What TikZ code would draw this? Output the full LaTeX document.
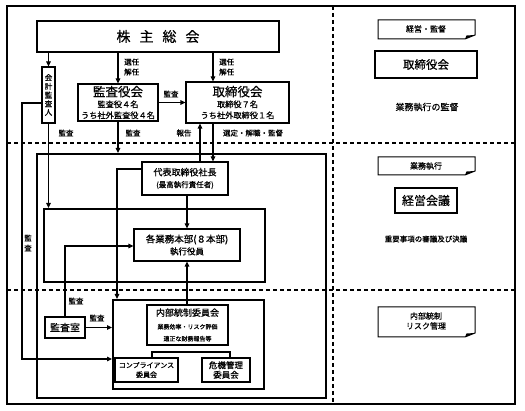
\documentclass[tikz,border=0pt]{standalone}
\usepackage{fontspec}
\setmainfont{Noto Sans CJK JP}[FakeBold=0.6]
\usetikzlibrary{arrows.meta,calc}
\begin{document}
\begin{tikzpicture}[x=1pt,y=-1pt,
  box/.style={draw,line width=1.1pt,inner sep=0pt,align=center},
  frm/.style={draw,line width=1.6pt,inner sep=0pt,anchor=north west},
  arr/.style={line width=1.1pt,-{Triangle[length=5pt,width=4.5pt]}},
  ln/.style={line width=1.1pt},
  lab/.style={font=\fontsize{7.5}{9}\selectfont,inner sep=0pt,align=center},
  dsh/.style={line width=1.1pt,dash pattern=on 4pt off 3pt},
  notebox/.style={line width=1pt}]
\useasboundingbox (0,0) rectangle (525,411);

% outer frame and dashed separators
\draw[line width=1.1pt] (7,6) rectangle (515,404);
\draw[dsh] (333,6) -- (333,404);
\draw[dsh] (7,143) -- (515,143);
\draw[dsh] (7,290) -- (515,290);

% frames
\node[frm,minimum width=289pt,minimum height=244pt] (opbox) at (36,153) {};
\node[frm,minimum width=221pt,minimum height=73pt] (innerbox) at (43,208) {};
\node[frm,minimum width=151pt,minimum height=89pt] (naibubox) at (112,299) {};

% main nodes
\node[box,minimum width=242pt,minimum height=31pt,font=\fontsize{14}{16}\selectfont] (sh) at (158,36.5) {株\hspace{9pt}主\hspace{9pt}総\hspace{9pt}会};
\node[box,minimum width=13pt,minimum height=56pt,font=\fontsize{7.5}{8.7}\selectfont] (kaikei) at (48.5,95) {会\\計\\監\\査\\人};
\node[box,minimum width=80pt,minimum height=37pt] (kansayaku) at (118,102.5) {{\fontsize{12.5}{13}\selectfont 監査役会}\\[-1pt]{\fontsize{8.2}{9.5}\selectfont 監査役４名}\\[-1pt]{\fontsize{8.2}{9.5}\selectfont うち社外監査役４名}};
\node[box,minimum width=103pt,minimum height=41pt] (torishimari) at (237.5,102.5) {{\fontsize{12.5}{13}\selectfont 取締役会}\\[-1pt]{\fontsize{8.2}{9.5}\selectfont 取締役７名}\\[-1pt]{\fontsize{8.2}{9.5}\selectfont うち社外取締役１名}};
\node[box,minimum width=86pt,minimum height=33pt] (daihyo) at (185,178.5) {{\fontsize{9}{11}\selectfont 代表取締役社長}\\{\fontsize{7.5}{9}\selectfont (最高執行責任者)}};
\node[box,minimum width=106pt,minimum height=32pt] (kakugyomu) at (187,245) {{\fontsize{9.5}{11.5}\selectfont 各業務本部(８本部)}\\{\fontsize{8.5}{10}\selectfont 執行役員}};
\node[box,minimum width=81pt,minimum height=40pt] (naibu) at (187.5,325) {{\fontsize{9}{10.5}\selectfont 内部統制委員会}\\[1pt]{\fontsize{6}{7.5}\selectfont 業務効率・リスク評価}\\{\fontsize{6}{7.5}\selectfont 適正な財務報告等}};
\node[box,minimum width=63pt,minimum height=24pt,font=\fontsize{7}{9.5}\selectfont] (comp) at (146.5,370) {コンプライアンス\\委員会};
\node[box,minimum width=48pt,minimum height=24pt,font=\fontsize{8.5}{9.5}\selectfont] (kiki) at (226,370) {危機管理\\委員会};
\node[box,minimum width=40pt,minimum height=21pt,font=\fontsize{10}{12}\selectfont] (kansashitsu) at (65,327.5) {監査室};

% helper coordinates
\coordinate (x213) at (213,0);
\coordinate (x200) at (200,0);
\coordinate (k1) at (22,103);
\coordinate (k2) at (22,359);
\coordinate (d1) at (117,169);
\coordinate (s1) at (65,246);
\coordinate (t1) at (152,352);
\coordinate (t2) at (230,352);

% connectors
\draw[arr] (sh.south -| kaikei.north) -- (kaikei.north);
\draw[arr] (sh.south -| kansayaku.north) -- (kansayaku.north);
\draw[arr] (sh.south -| x213) -- (torishimari.north -| x213);
\draw[arr] (kansayaku.east) -- (torishimari.west);
\draw[arr] (kansayaku.south) -- (kansayaku.south |- opbox.north);
\draw[arr] (daihyo.north -| x200) -- (torishimari.south -| x200);
\draw[arr] (torishimari.south -| x213) -- (daihyo.north -| x213);
\draw[arr] (kaikei.south) -- (kaikei.south |- innerbox.north);
\draw[arr] (kaikei.west |- k1) -- (k1) -- (k2) -- (k2 -| naibubox.west);
\draw[arr] (daihyo.west |- d1) -- (d1) -- (d1 |- naibubox.north);
\draw[arr] (daihyo.south -| kakugyomu.north) -- (kakugyomu.north);
\draw[arr] (kansashitsu.north -| s1) -- (s1) -- (s1 -| kakugyomu.west);
\draw[arr] (naibu.north -| kakugyomu.south) -- (kakugyomu.south);
\draw[arr] (kansashitsu.east) -- (kansashitsu.east -| naibubox.west);
\draw[ln] (naibu.south -| kakugyomu.south) -- (naibu.south -| kakugyomu.south |- t1);
\draw[ln] (t1 |- comp.north) -- (t1) -- (t2) -- (t2 |- kiki.north);

% labels
\node[lab,anchor=west,font=\fontsize{7.5}{10}\selectfont] (l1) at (124,67) {選任\\解任};
\node[lab,anchor=west,font=\fontsize{7.5}{10}\selectfont] (l2) at (219,67) {選任\\解任};
\node[lab] (l3) at (171,94) {監査};
\node[lab] (l4) at (66,133) {監査};
\node[lab] (l5) at (133,133) {監査};
\node[lab] (l6) at (184,133) {報告};
\node[lab] (l7) at (253,133) {選定・解職・監督};
\node[lab,font=\fontsize{7.5}{10}\selectfont] (l8) at (28,243) {監\\査};
\node[lab] (l9) at (76,301) {監査};
\node[lab] (l10) at (97,318) {監査};

% right panel
\draw[notebox] (378,20) -- (475,20) -- (475,35) -- (465,39) -- (378,39) -- cycle;
\fill (475,35) -- (465,39) -- (466.5,35.5) -- cycle;
\node[lab,font=\fontsize{8}{9}\selectfont] (n1) at (426,29) {経営・監督};
\node[box,minimum width=102pt,minimum height=27pt,font=\fontsize{11.5}{13}\selectfont] (rt) at (426,64.5) {取締役会};
\node[lab,font=\fontsize{9}{10}\selectfont] (r1) at (427,107) {業務執行の監督};

\draw[notebox] (378,157) -- (475,157) -- (475,171) -- (465,175) -- (378,175) -- cycle;
\fill (475,171) -- (465,175) -- (466.5,171.5) -- cycle;
\node[lab,font=\fontsize{8}{9}\selectfont] (n2) at (426,166) {業務執行};
\node[box,minimum width=62pt,minimum height=25pt,font=\fontsize{12}{14}\selectfont] (rk) at (426,200.5) {経営会議};
\node[lab,font=\fontsize{7.5}{9}\selectfont] (r2) at (426,239) {重要事項の審議及び決議};

\draw[notebox] (378,307) -- (475,307) -- (475,333) -- (465,337) -- (378,337) -- cycle;
\fill (475,333) -- (465,337) -- (466.5,333.5) -- cycle;
\node[lab,font=\fontsize{8}{10}\selectfont] (n3) at (426,321) {内部統制\\リスク管理};
\end{tikzpicture}
\end{document}
